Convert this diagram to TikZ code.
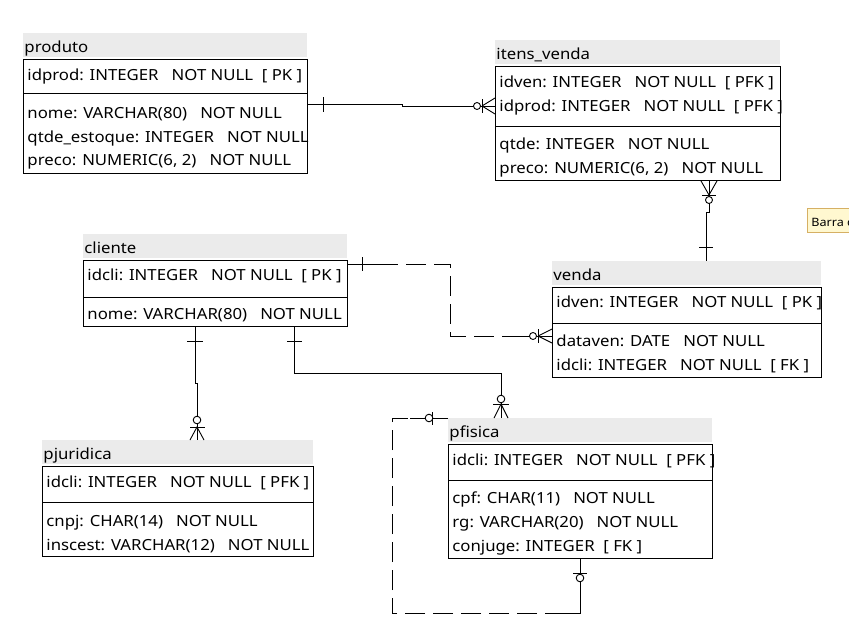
\documentclass[tikz,border=0pt]{standalone}
\usepackage{fontspec}
\setmainfont{Noto Sans}[FakeStretch=1.095]
\usetikzlibrary{calc}
\begin{document}
\begin{tikzpicture}[x=1pt,y=-1pt,line width=0.9pt,
  tbl/.style={draw,anchor=north west,inner sep=0,line width=0.9pt},
  hdr/.style={fill=headgray,anchor=north west,inner sep=0,draw=none},
  row/.style={anchor=base west,inner sep=0,font=\fontsize{15.3}{17}\selectfont},
  dsh/.style={dash pattern=on 20pt off 8pt},
  circ/.style={draw,fill=white,line width=0.9pt}]
\definecolor{headgray}{RGB}{235,235,235}
\definecolor{tipfill}{RGB}{255,248,208}
\definecolor{tipdraw}{RGB}{214,176,100}
\useasboundingbox (0,0) rectangle (849,635);
\fill[white] (0,0) rectangle (849,635);

% ---------- produto
\node[hdr,minimum width=284pt,minimum height=24pt] (produtoH) at (23,33) {};
\node[row] (produtoT) at (24,52) {produto};
\node[tbl,minimum width=284pt,minimum height=114pt] (produto) at (23,59) {};
\draw (23,93) -- (307,93);
\node[row] at (27,80) {idprod: INTEGER~~~NOT NULL~~[ PK ]};
\node[row] at (27,118) {nome: VARCHAR(80)~~~NOT NULL};
\node[row] at (27,142) {qtde\_estoque: INTEGER~~~NOT NULL};
\node[row] at (27,165) {preco: NUMERIC(6, 2)~~~NOT NULL};

% ---------- itens_venda
\node[hdr,minimum width=285pt,minimum height=24pt] (itensH) at (495,40) {};
\node[row] (itensT) at (496,59) {itens\_venda};
\node[tbl,minimum width=285pt,minimum height=114pt] (itens) at (495,66) {};
\draw (495,126) -- (780,126);
\node[row] at (499,87) {idven: INTEGER~~~NOT NULL~~[ PFK ]};
\node[row] at (499,111) {idprod: INTEGER~~~NOT NULL~~[ PFK ]};
\node[row] at (499,149) {qtde: INTEGER~~~NOT NULL};
\node[row] at (499,173) {preco: NUMERIC(6, 2)~~~NOT NULL};

% ---------- cliente
\node[hdr,minimum width=264pt,minimum height=24pt] (clienteH) at (83,234) {};
\node[row] (clienteT) at (84,253) {cliente};
\node[tbl,minimum width=264pt,minimum height=66pt] (cliente) at (83,260) {};
\draw (83,297) -- (347,297);
\node[row] at (87,280) {idcli: INTEGER~~~NOT NULL~~[ PK ]};
\node[row] at (87,319) {nome: VARCHAR(80)~~~NOT NULL};

% ---------- venda
\node[hdr,minimum width=269pt,minimum height=24pt] (vendaH) at (552,261) {};
\node[row] (vendaT) at (553,280) {venda};
\node[tbl,minimum width=269pt,minimum height=90pt] (venda) at (552,287) {};
\draw (552,323) -- (821,323);
\node[row] at (556,307) {idven: INTEGER~~~NOT NULL~~[ PK ]};
\node[row] at (556,346) {dataven: DATE~~~NOT NULL};
\node[row] at (556,370) {idcli: INTEGER~~~NOT NULL~~[ FK ]};

% ---------- pjuridica
\node[hdr,minimum width=271pt,minimum height=24pt] (pjurH) at (42,440) {};
\node[row] (pjurT) at (43,459) {pjuridica};
\node[tbl,minimum width=271pt,minimum height=90pt] (pjur) at (42,466) {};
\draw (42,502) -- (313,502);
\node[row] at (46,487) {idcli: INTEGER~~~NOT NULL~~[ PFK ]};
\node[row] at (46,526) {cnpj: CHAR(14)~~~NOT NULL};
\node[row] at (46,550) {inscest: VARCHAR(12)~~~NOT NULL};

% ---------- pfisica
\node[hdr,minimum width=264pt,minimum height=24pt] (pfisH) at (448,418) {};
\node[row] (pfisT) at (449,437) {pfisica};
\node[tbl,minimum width=264pt,minimum height=114pt] (pfis) at (448,444) {};
\draw (448,480) -- (712,480);
\node[row] at (452,465) {idcli: INTEGER~~~NOT NULL~~[ PFK ]};
\node[row] at (452,503) {cpf: CHAR(11)~~~NOT NULL};
\node[row] at (452,527) {rg: VARCHAR(20)~~~NOT NULL};
\node[row] at (452,551) {conjuge: INTEGER~~[ FK ]};

% ---------- tooltip
\begin{scope}
\clip (0,0) rectangle (849,635);
\node[draw=tipdraw,fill=tipfill,line width=0.8pt,anchor=north west,minimum width=60pt,minimum height=24pt,inner sep=0] (tip) at (807,208) {};
\node[anchor=base west,inner sep=0,font=\fontsize{11.5}{14}\selectfont] (tipT) at (811,226) {Barra de};
\end{scope}

% ---------- C1 produto -- itens_venda
\draw (produto.east |- 0,104) -- (402,104) -- (402,106) -- (itens.west |- 0,106);
\draw (323,97) -- (323,112);
\draw (482,106) -- (itens.west |- 0,98);
\draw (482,106) -- (itens.west |- 0,114);
\draw (482,99) -- (482,113);
\draw[circ] (477,106) circle (3.5pt);

% ---------- C2 itens_venda -- venda
\draw (709,0 |- itens.south) -- (709,212) -- (706,212) -- (706,0 |- vendaH.north);
\draw (701,0 |- itens.south) -- (709,195) -- (717,0 |- itens.south);
\draw (702,195) -- (716,195);
\draw[circ] (709,200) circle (3.5pt);
\draw (699,247) -- (713,247);

% ---------- C3 cliente -- venda (dashed)
\draw (cliente.east |- 0,264) -- (378,264);
\draw[dsh] (378,264) -- (450,264) -- (450,336) -- (520,336);
\draw (520,336) -- (venda.west |- 0,336);
\draw (362,257) -- (362,271);
\draw (538,336) -- (venda.west |- 0,329);
\draw (538,336) -- (venda.west |- 0,343);
\draw (538,329) -- (538,343);
\draw[circ] (533,336) circle (3.5pt);

% ---------- C4 cliente -- pjuridica
\draw (195,0 |- cliente.south) -- (195,383) -- (197,383) -- (197,0 |- pjurH.north);
\draw (187,341) -- (203,341);
\draw (190,0 |- pjurH.north) -- (197,427) -- (204,0 |- pjurH.north);
\draw (190,427) -- (205,427);
\draw[circ] (197,420) circle (3.8pt);

% ---------- C5 cliente -- pfisica
\draw (294,0 |- cliente.south) -- (294,373) -- (501,373) -- (501,0 |- pfisH.north);
\draw (287,341) -- (302,341);
\draw (494,0 |- pfisH.north) -- (501,404) -- (508,0 |- pfisH.north);
\draw (493,404) -- (509,404);
\draw[circ] (501,399) circle (3.8pt);

% ---------- C6 pfisica self (dashed)
\draw (580,0 |- pfis.south) -- (580,613) -- (565,613);
\draw[dsh] (565,613) -- (392,613) -- (392,418) -- (410,418);
\draw (410,418) -- (pfisH.west |- 0,418);
\draw (573,573) -- (587,573);
\draw[circ] (580,578) circle (3.8pt);
\draw (432,412) -- (432,425);
\draw[circ] (429,418) circle (3.8pt);
\end{tikzpicture}
\end{document}
